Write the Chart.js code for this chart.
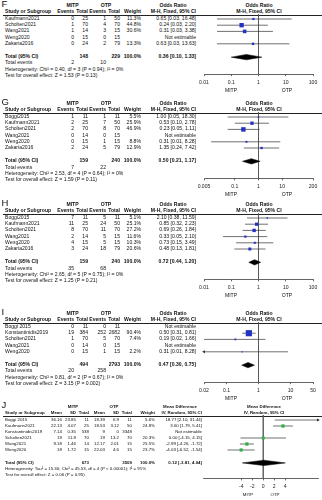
<!DOCTYPE html>
<html>
<head>
<meta charset="utf-8">
<script src="https://cdn.jsdelivr.net/npm/chart.js@4.4.1/dist/chart.umd.min.js"></script>
<style>
  html, body { margin: 0; padding: 0; background: #fff; }
  #page { position: relative; width: 322px; height: 500px; overflow: hidden; font-family: "Liberation Sans", Arial, sans-serif; color: #111; }
  .t { position: absolute; white-space: nowrap; line-height: 1; }
  .b { font-weight: bold; }
  .hr { position: absolute; height: 0; border-top: 0.8px solid #222; }
  canvas { position: absolute; }
</style>
</head>
<body>
<div id="page"></div>
<script>
// F
const fStudy = ['Kaufmann2021', 'Scholten2021', 'Wang2021', 'Weng2020', 'Zakaria2016'];
const fMitpEvents = [0, 1, 1, 0, 0];
const fMitpTotal = [25, 70, 14, 15, 24];
const fOtpEvents = [1, 4, 3, 0, 2];
const fOtpTotal = [50, 70, 15, 15, 79];
const fWeight = [11.3, 44.8, 30.6, null, 13.3];
const fEst = [0.65, 0.24, 0.31, null, 0.63];
const fLow = [0.03, 0.03, 0.03, null, 0.03];
const fHigh = [16.48, 2.20, 3.38, null, 13.63];
const fPooled = [0.36, 0.10, 1.33];
const fTotals = [148, 229];
const fEvents = [2, 10];
const fHetero = 'Heterogeneity: Chi² = 0.40, df = 3 (P = 0.94); I² = 0%';
const fTest = 'Test for overall effect: Z = 1.53 (P = 0.13)';
const fTicks = [0.01, 0.1, 1, 10, 100];
const fTickLabels = ['0.01', '0.1', '1', '10', '100'];

// G
const gStudy = ['Boggi2015', 'Kaufmann2021', 'Scholten2021', 'Wang2021', 'Weng2020', 'Zakaria2016'];
const gMitpEvents = [1, 2, 2, 0, 0, 2];
const gMitpTotal = [11, 25, 70, 14, 15, 24];
const gOtpEvents = [1, 7, 8, 0, 1, 5];
const gOtpTotal = [11, 50, 70, 15, 15, 79];
const gWeight = [5.5, 25.9, 46.9, null, 8.8, 12.9];
const gEst = [1.00, 0.53, 0.23, null, 0.31, 1.35];
const gLow = [0.05, 0.10, 0.05, null, 0.01, 0.24];
const gHigh = [18.30, 2.78, 1.11, null, 8.28, 7.42];
const gPooled = [0.50, 0.21, 1.17];
const gTotals = [159, 240];
const gEvents = [7, 22];
const gHetero = 'Heterogeneity: Chi² = 2.53, df = 4 (P = 0.64); I² = 0%';
const gTest = 'Test for overall effect: Z = 1.59 (P = 0.11)';
const gTicks = [0.005, 0.1, 1, 10, 200];
const gTickLabels = ['0.005', '0.1', '1', '10', '200'];

// H
const hStudy = ['Boggi2015', 'Kaufmann2021', 'Scholten2021', 'Wang2021', 'Weng2020', 'Zakaria2016'];
const hMitpEvents = [7, 11, 8, 2, 4, 3];
const hMitpTotal = [11, 25, 70, 14, 15, 24];
const hOtpEvents = [5, 24, 11, 5, 5, 18];
const hOtpTotal = [11, 50, 70, 15, 15, 79];
const hWeight = [5.1, 25.1, 27.2, 11.6, 10.3, 20.6];
const hEst = [2.10, 0.85, 0.69, 0.33, 0.73, 0.48];
const hLow = [0.38, 0.32, 0.26, 0.05, 0.15, 0.13];
const hHigh = [11.59, 2.23, 1.84, 2.10, 3.49, 1.81];
const hPooled = [0.72, 0.44, 1.20];
const hTotals = [159, 240];
const hEvents = [35, 68];
const hHetero = 'Heterogeneity: Chi² = 2.65, df = 5 (P = 0.75); I² = 0%';
const hTest = 'Test for overall effect: Z = 1.25 (P = 0.21)';
const hTicks = [0.01, 0.1, 1, 10, 100];
const hTickLabels = ['0.01', '0.1', '1', '10', '100'];

// I
const iStudy = ['Boggi 2015', 'Konstantinidis2019', 'Scholten2021', 'Wang2021', 'Weng2020'];
const iMitpEvents = [0, 19, 1, 0, 0];
const iMitpTotal = [11, 384, 70, 14, 15];
const iOtpEvents = [0, 252, 5, 0, 1];
const iOtpTotal = [11, 2682, 70, 15, 15];
const iWeight = [null, 90.4, 7.4, null, 2.2];
const iEst = [null, 0.50, 0.19, null, 0.31];
const iLow = [null, 0.31, 0.02, null, 0.01];
const iHigh = [null, 0.81, 1.66, null, 8.28];
const iPooled = [0.47, 0.30, 0.75];
const iTotals = [494, 2793];
const iEvents = [20, 258];
const iHetero = 'Heterogeneity: Chi² = 0.81, df = 2 (P = 0.67); I² = 0%';
const iTest = 'Test for overall effect: Z = 3.15 (P = 0.002)';
const iTicks = [0.02, 0.1, 1, 10, 50];
const iTickLabels = ['0.02', '0.1', '1', '10', '50'];

// J
const jStudy = ['Boggi 2015', 'Kaufmann2021', 'Konstantinidis2019', 'Scholten2021', 'Wang2021', 'Weng2020'];
const jMitpMean = [36.16, 22.13, 7.14, 19, 9.18, 18];
const jMitpSD = [23.85, 4.07, 0.35, 11.8, 1.46, 1.72];
const jMitpTotal = [11, 25, 538, 70, 14, 15];
const jOtpMean = [18.39, 18.53, 9, 19, 12.17, 22.03];
const jOtpSD = [6.9, 3.12, 0, 13.2, 2.01, 4.6];
const jOtpTotal = [11, 50, 3348, 70, 15, 15];
const jWeight = [5.6, 24.8, null, 20.3, 25.5, 23.7];
const jEst = [18.77, 3.60, null, 0.00, -2.99, -4.03];
const jLow = [2.10, 1.79, null, -4.15, -4.26, -6.52];
const jHigh = [31.44, 5.41, null, 4.15, -1.72, -1.54];
const jPooled = [0.12, -3.81, 4.04];
const jTotals = [673, 3509];
const jHetero = 'Heterogeneity: Tau² = 15.30; Chi² = 45.53, df = 4 (P < 0.00001); I² = 91%';
const jTest = 'Test for overall effect: Z = 0.06 (P = 0.95)';
const jTicks = [-4, -2, 0, 2, 4];
const jTickLabels = ['-4', '-2', '0', '2', '4'];
const jRange = [-11, 10];

Chart.defaults.font.family = '"Liberation Sans", Arial, sans-serif';

const page = document.getElementById('page');

function txt(s, x, y, align, bold, size) {
  const d = document.createElement('div');
  d.className = 't' + (bold ? ' b' : '');
  d.textContent = s;
  d.style.left = x + 'px';
  d.style.top = y + 'px';
  d.style.fontSize = size + 'px';
  const tx = align === 'right' ? '-100%' : align === 'center' ? '-50%' : '0';
  d.style.transform = `translate(${tx}, -50%)`;
  page.appendChild(d);
}

const pct = w => w == null ? '' : w.toFixed(1) + '%';
const ci = (e, l, h) => e == null ? 'Not estimable' : `${e.toFixed(2)} [${l.toFixed(2)}, ${h.toFixed(2)}]`;

function binaryPanel(p) {
  p.log = true;
  p.ref = 1;
  p.padL = 10; p.padR = 9;
  p.color = '#2233c4';
  p.fs = 5.1; p.pitch = 6.2;
  p.head1 = [['MITP', 72.5], ['OTP', 106], ['Odds Ratio', 173], ['Odds Ratio', 259]];
  p.head2 = [['Study or Subgroup', 5, 'left'], ['Events', 74, 'right'], ['Total', 88, 'right'],
    ['Events', 106, 'right'], ['Total', 120, 'right'], ['Weight', 141, 'right'],
    ['M-H, Fixed, 95% CI', 196, 'right'], ['M-H, Fixed, 95% CI', 259, 'center']];
  p.cols = [
    { x: 74, vals: p.e1.map(String), total: '' },
    { x: 88, vals: p.n1.map(String), total: String(p.totals[0]) },
    { x: 106, vals: p.e2.map(String), total: '' },
    { x: 120, vals: p.n2.map(String), total: String(p.totals[1]) },
    { x: 141, vals: p.weight.map(pct), total: '100.0%' },
    { x: 196, vals: p.est.map((e, i) => ci(e, p.low[i], p.high[i])), total: ci(...p.pooled) }
  ];
  p.notes = [
    [['Total events', 5, 'left'], [String(p.events[0]), 74, 'right'], [String(p.events[1]), 106, 'right']],
    [[p.hetero, 5, 'left']],
    [[p.test, 5, 'left']]
  ];
  p.xMin = p.ticks[0]; p.xMax = p.ticks[p.ticks.length - 1];
  p.favX = [231, 287];
  p.axisGap = 17;
  buildPanel(p);
}

function buildPanel(p) {
  const T = p.top, fs = p.fs, pitch = p.pitch;
  const n = p.study.length;
  const y = i => T + 19 + pitch * i;
  const totIdx = n + 1.15;

  txt(p.letter, 1.5, T + 3.5, 'left', false, 9.5);
  p.head1.forEach(h => txt(h[0], h[1], T + 5.5, 'center', true, fs));
  p.head2.forEach(h => txt(h[0], h[1], T + 11.5, h[2], true, fs));
  const hr = document.createElement('div');
  hr.className = 'hr';
  hr.style.left = '3px'; hr.style.width = '319px'; hr.style.top = (T + 14.5) + 'px';
  page.appendChild(hr);

  p.study.forEach((s, i) => {
    txt(s, 5, y(i), 'left', false, fs);
    p.cols.forEach(c => { if (c.vals[i] !== '') txt(c.vals[i], c.x, y(i), 'right', false, fs); });
  });
  txt('Total (95% CI)', 5, y(totIdx), 'left', true, fs);
  p.cols.forEach(c => { if (c.total !== '') txt(c.total, c.x, y(totIdx), 'right', true, fs); });
  p.notes.forEach((line, k) => line.forEach(a => txt(a[0], a[1], y(totIdx + 1 + k), a[2], false, fs)));

  // forest plot
  const axisRel = 19 + pitch * totIdx + p.axisGap;
  const areaH = axisRel - 14;
  const cvH = Math.ceil(areaH) + 16;
  const cv = document.createElement('canvas');
  cv.width = 128; cv.height = cvH;
  cv.style.left = '194px'; cv.style.top = (T + 14) + 'px';
  cv.style.width = '128px'; cv.style.height = cvH + 'px';
  page.appendChild(cv);

  const yMin = (14 - 19) / pitch, yMax = (axisRel - 19) / pitch;
  const xMin = p.xMin, xMax = p.xMax;
  const idx = p.est.map((e, i) => i).filter(i => p.est[i] != null);

  const ds = [];
  ds.push({
    data: idx.map(i => ({ x: p.est[i], y: i })),
    pointStyle: 'rect',
    pointRadius: idx.map(i => Math.max(1.2, 0.65 * Math.sqrt(p.weight[i])) / Math.SQRT2),
    backgroundColor: p.color, borderWidth: 0, clip: false
  });
  const arrows = [];
  idx.forEach(i => {
    if (p.low[i] < xMin) arrows.push({ x: xMin, y: i, r: -90 });
    if (p.high[i] > xMax) arrows.push({ x: xMax, y: i, r: 90 });
  });
  ds.push({
    data: arrows.map(a => ({ x: a.x, y: a.y })),
    pointStyle: 'triangle', rotation: arrows.map(a => a.r), pointRadius: 1.8,
    backgroundColor: '#222', borderWidth: 0, clip: false
  });
  idx.forEach(i => ds.push({
    data: [{ x: Math.max(p.low[i], xMin), y: i }, { x: Math.min(p.high[i], xMax), y: i }],
    showLine: true, borderColor: '#333', borderWidth: 0.7, pointRadius: 0
  }));
  const [pe, pl, ph] = p.pooled;
  const dh = 2.7 / pitch;
  ds.push({
    data: [{ x: pl, y: totIdx }, { x: pe, y: totIdx - dh }, { x: ph, y: totIdx }],
    showLine: true, borderColor: '#000', borderWidth: 0.5, pointRadius: 0, fill: false
  });
  ds.push({
    data: [{ x: pl, y: totIdx }, { x: pe, y: totIdx + dh }, { x: ph, y: totIdx }],
    showLine: true, borderColor: '#000', borderWidth: 0.5, pointRadius: 0, fill: '-1', backgroundColor: '#000'
  });
  ds.push({
    data: [{ x: p.ref, y: yMin }, { x: p.ref, y: yMax }],
    showLine: true, borderColor: '#555', borderWidth: 0.7, pointRadius: 0
  });

  new Chart(cv, {
    type: 'scatter',
    data: { datasets: ds },
    options: {
      responsive: false, animation: false, devicePixelRatio: 1,
      layout: { autoPadding: false, padding: { left: p.padL, right: p.padR, top: 0, bottom: 0 } },
      plugins: { legend: { display: false }, tooltip: { enabled: false } },
      scales: {
        x: {
          type: p.log ? 'logarithmic' : 'linear', min: xMin, max: xMax,
          afterBuildTicks: s => { s.ticks = p.ticks.map(v => ({ value: v })); },
          afterFit: s => { s.height = cvH - areaH; },
          ticks: { callback: (v, i) => p.tickLabels[i], font: { size: 5.1 }, color: '#222', padding: 3, maxRotation: 0, autoSkip: false },
          grid: { drawOnChartArea: false, drawTicks: true, tickLength: 2, color: '#222', lineWidth: 0.7 },
          border: { display: true, color: '#222', width: 0.7 }
        },
        y: { type: 'linear', reverse: true, min: yMin, max: yMax, display: false }
      }
    }
  });

  txt('MITP', p.favX[0], T + axisRel + 17, 'center', false, fs);
  txt('OTP', p.favX[1], T + axisRel + 17, 'center', false, fs);
}

binaryPanel({ letter: 'F', top: 0, study: fStudy, e1: fMitpEvents, n1: fMitpTotal, e2: fOtpEvents, n2: fOtpTotal,
  weight: fWeight, est: fEst, low: fLow, high: fHigh, pooled: fPooled, totals: fTotals, events: fEvents,
  hetero: fHetero, test: fTest, ticks: fTicks, tickLabels: fTickLabels });
binaryPanel({ letter: 'G', top: 98, study: gStudy, e1: gMitpEvents, n1: gMitpTotal, e2: gOtpEvents, n2: gOtpTotal,
  weight: gWeight, est: gEst, low: gLow, high: gHigh, pooled: gPooled, totals: gTotals, events: gEvents,
  hetero: gHetero, test: gTest, ticks: gTicks, tickLabels: gTickLabels });
binaryPanel({ letter: 'H', top: 199, study: hStudy, e1: hMitpEvents, n1: hMitpTotal, e2: hOtpEvents, n2: hOtpTotal,
  weight: hWeight, est: hEst, low: hLow, high: hHigh, pooled: hPooled, totals: hTotals, events: hEvents,
  hetero: hHetero, test: hTest, ticks: hTicks, tickLabels: hTickLabels });
binaryPanel({ letter: 'I', top: 308, study: iStudy, e1: iMitpEvents, n1: iMitpTotal, e2: iOtpEvents, n2: iOtpTotal,
  weight: iWeight, est: iEst, low: iLow, high: iHigh, pooled: iPooled, totals: iTotals, events: iEvents,
  hetero: iHetero, test: iTest, ticks: iTicks, tickLabels: iTickLabels });

// J: continuous outcome
buildPanel({
  letter: 'J', top: 401, study: jStudy, est: jEst, low: jLow, high: jHigh, weight: jWeight, pooled: jPooled,
  log: false, ref: 0, padL: 9, padR: 4, color: '#2fae45', fs: 4.4, pitch: 6, axisGap: 15.5,
  ticks: jTicks, tickLabels: jTickLabels, xMin: jRange[0], xMax: jRange[1], favX: [248, 275],
  head1: [['MITP', 73], ['OTP', 114], ['Mean Difference', 180], ['Mean Difference', 264]],
  head2: [['Study or Subgroup', 5, 'left'], ['Mean', 62, 'right'], ['SD', 76, 'right'], ['Total', 89, 'right'],
    ['Mean', 105, 'right'], ['SD', 119, 'right'], ['Total', 132, 'right'], ['Weight', 155, 'right'],
    ['IV, Random, 95% CI', 202, 'right'], ['IV, Random, 95% CI', 264, 'center']],
  cols: [
    { x: 62, vals: jMitpMean.map(String), total: '' },
    { x: 76, vals: jMitpSD.map(String), total: '' },
    { x: 89, vals: jMitpTotal.map(String), total: String(jTotals[0]) },
    { x: 105, vals: jOtpMean.map(String), total: '' },
    { x: 119, vals: jOtpSD.map(String), total: '' },
    { x: 132, vals: jOtpTotal.map(String), total: String(jTotals[1]) },
    { x: 155, vals: jWeight.map(pct), total: '100.0%' },
    { x: 202, vals: jEst.map((e, i) => ci(e, jLow[i], jHigh[i])), total: ci(...jPooled) }
  ],
  notes: [[[jHetero, 5, 'left']], [[jTest, 5, 'left']]]
});
</script>
</body>
</html>
